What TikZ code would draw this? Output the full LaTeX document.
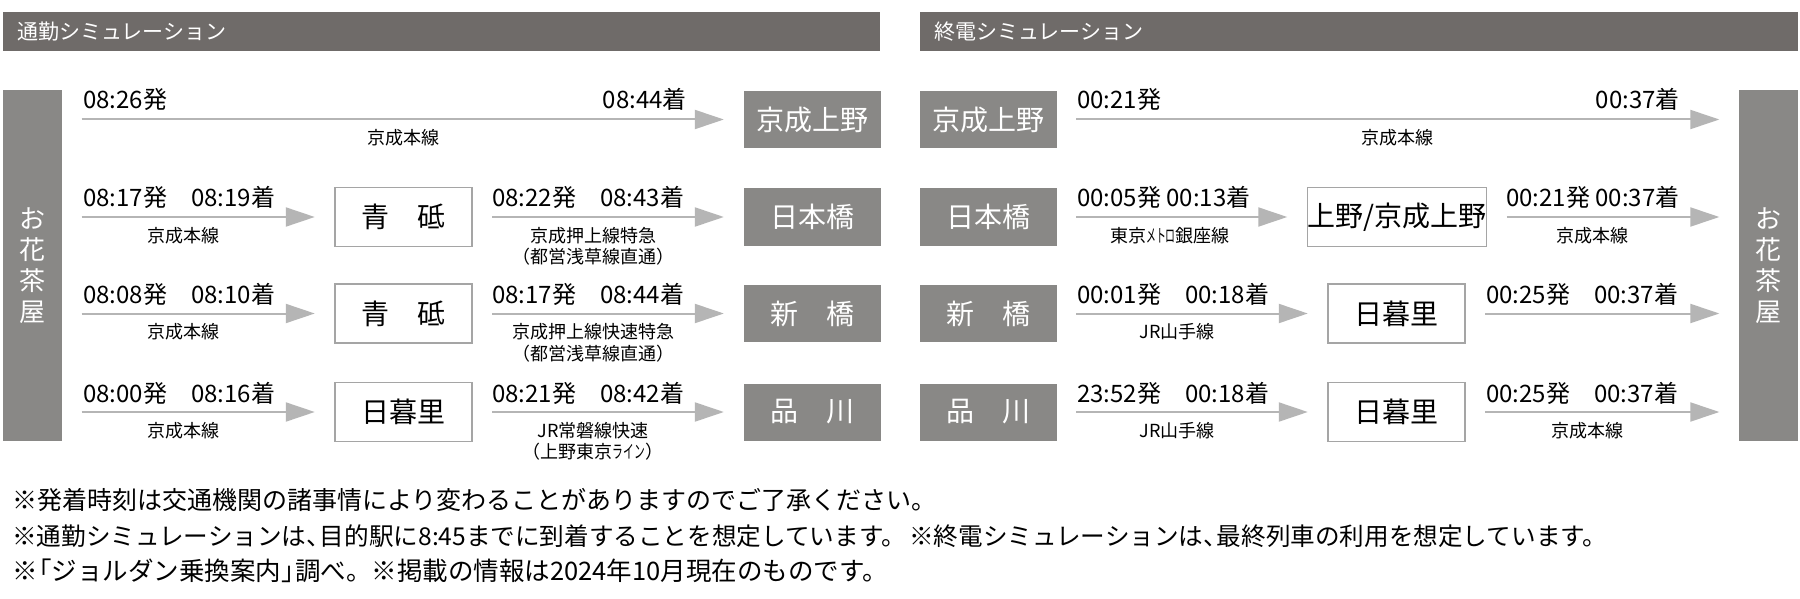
\documentclass[tikz,border=0pt]{standalone}
\usepackage{fontspec}
\setmainfont{Noto Sans CJK JP}
\usetikzlibrary{arrows.meta}
\definecolor{hdrgray}{RGB}{111,107,105}
\definecolor{stngray}{RGB}{137,136,134}
\definecolor{arrgray}{RGB}{181,181,181}
\definecolor{bordgray}{RGB}{165,165,165}
\newcommand{\hk}{\kern-0.45em}
\begin{document}
\begin{tikzpicture}[x=1pt,y=-1pt,
  hdr/.style={fill=hdrgray, draw=none},
  hdrtext/.style={text=white, font=\fontsize{21}{21}\selectfont, anchor=west, inner sep=0},
  stn/.style={fill=stngray, text=white, minimum width=137pt, minimum height=57pt, inner sep=0, font=\fontsize{28}{28}\selectfont},
  tall/.style={fill=stngray, text=white, minimum width=59pt, minimum height=351pt, inner sep=0, align=center, font=\fontsize{26}{31}\selectfont},
  xfer/.style={draw=bordgray, line width=1.5pt, fill=white, minimum width=137pt, minimum height=59pt, inner sep=0, font=\fontsize{28}{28}\selectfont},
  arr/.style={draw=arrgray, line width=2pt, -{Triangle[length=29pt,width=19pt]}, shorten <=19.5pt, shorten >=19.5pt},
  tm/.style={font=\fontsize{24}{24}\selectfont, inner sep=0, anchor=base west},
  tme/.style={font=\fontsize{24}{24}\selectfont, inner sep=0, anchor=base east},
  lbl/.style={font=\fontsize{18}{21.5}\selectfont, inner sep=0, align=center, anchor=north},
  note/.style={font=\fontsize{24.6}{24.6}\selectfont, inner sep=0, anchor=base west},
]
\useasboundingbox (0,0) rectangle (1800,599);
\fill[white] (0,0) rectangle (1800,599);

% headers
\node[hdr, minimum width=877pt, minimum height=39pt, inner sep=0, anchor=north west] (hL) at (3,12) {};
\node[hdrtext] (hLt) at (17,31.5) {通勤シミュレーション};
\node[hdr, minimum width=878pt, minimum height=39pt, inner sep=0, anchor=north west] (hR) at (920,12) {};
\node[hdrtext] (hRt) at (934,31.5) {終電シミュレーション};

% tall boxes
\node[tall] (ochaL) at (32.5,265.5) {お\\花\\茶\\屋};
\node[tall] (ochaR) at (1768.5,265.5) {お\\花\\茶\\屋};

% ===== left side =====
\node[stn] (kuL) at (812,119.5) {京成上野};
\node[stn] (nihL) at (812,217) {日本橋};
\node[stn] (shinL) at (812,313.5) {新　橋};
\node[stn] (shinaL) at (812,412) {品　川};

\node[xfer] (xL2) at (403.5,217) {青　砥};
\node[xfer] (xL3) at (403.5,313.5) {青　砥};
\node[xfer] (xL4) at (403.5,412) {日暮里};

\draw[arr] (ochaL.east |- kuL.west) -- (kuL.west);
\draw[arr] (ochaL.east |- xL2.west) -- (xL2.west);
\draw[arr] (xL2.east) -- (nihL.west);
\draw[arr] (ochaL.east |- xL3.west) -- (xL3.west);
\draw[arr] (xL3.east) -- (shinL.west);
\draw[arr] (ochaL.east |- xL4.west) -- (xL4.west);
\draw[arr] (xL4.east) -- (shinaL.west);

\node[tm] (t11) at (83,109) {08:26発};
\node[tme] (t12) at (687,109) {08:44着};
\node[lbl] (l1) at (403,129) {京成本線};

\node[tm] (t21) at (83,207) {08:17発　08:19着};
\node[lbl] (l21) at (183,227) {京成本線};
\node[tm] (t22) at (492,207) {08:22発　08:43着};
\node[lbl] (l22) at (593,227) {京成押上線特急\\（都営浅草線直通）};

\node[tm] (t31) at (83,303.5) {08:08発　08:10着};
\node[lbl] (l31) at (183,323.5) {京成本線};
\node[tm] (t32) at (492,303.5) {08:17発　08:44着};
\node[lbl] (l32) at (593,323.5) {京成押上線快速特急\\（都営浅草線直通）};

\node[tm] (t41) at (83,402) {08:00発　08:16着};
\node[lbl] (l41) at (183,422) {京成本線};
\node[tm] (t42) at (492,402) {08:21発　08:42着};
\node[lbl] (l42) at (593,422) {JR常磐線快速\\（上野東京\scalebox{0.6}[1]{ライン}）};

% ===== right side =====
\node[stn] (kuR) at (988,119.5) {京成上野};
\node[stn] (nihR) at (988,217) {日本橋};
\node[stn] (shinR) at (988,313.5) {新　橋};
\node[stn] (shinaR) at (988,412) {品　川};

\node[xfer, minimum width=176pt] (xR2) at (1397,217) {上野/京成上野};
\node[xfer] (xR3) at (1396.5,313.5) {日暮里};
\node[xfer] (xR4) at (1396.5,412) {日暮里};

\draw[arr] (kuR.east) -- (ochaR.west |- kuR.east);
\draw[arr] (nihR.east) -- (xR2.west);
\draw[arr] (xR2.east) -- (ochaR.west |- xR2.east);
\draw[arr] (shinR.east) -- (xR3.west);
\draw[arr] (xR3.east) -- (ochaR.west |- xR3.east);
\draw[arr] (shinaR.east) -- (xR4.west);
\draw[arr] (xR4.east) -- (ochaR.west |- xR4.east);

\node[tm] (u11) at (1077,109) {00:21発};
\node[tme] (u12) at (1680,109) {00:37着};
\node[lbl] (m1) at (1397,129) {京成本線};

\node[tm] (u21) at (1077,207) {00:05発 00:13着};
\node[lbl] (m21) at (1170,227) {東京\scalebox{0.55}[1]{メトロ}銀座線};
\node[tm] (u22) at (1506,207) {00:21発 00:37着};
\node[lbl] (m22) at (1592,227) {京成本線};

\node[tm] (u31) at (1077,303.5) {00:01発　00:18着};
\node[lbl] (m31) at (1177,323.5) {JR山手線};
\node[tm] (u32) at (1486,303.5) {00:25発　00:37着};

\node[tm] (u41) at (1077,402) {23:52発　00:18着};
\node[lbl] (m41) at (1177,422) {JR山手線};
\node[tm] (u42) at (1486,402) {00:25発　00:37着};
\node[lbl] (m42) at (1587,422) {京成本線};

% notes
\node[note, font=\fontsize{25}{25}\selectfont] (n1) at (12,509) {※発着時刻は交通機関の諸事情により変わることがありますのでご了承ください。};
\node[note] (n2) at (12,545) {※通勤シミュレーションは、\hk 目的駅に8:45までに到着することを想定しています。};
\node[note] (n2b) at (909,545) {※終電シミュレーションは、\hk 最終列車の利用を想定しています。};
\node[note, font=\fontsize{25.5}{25.5}\selectfont] (n3) at (12,580) {※\hk「ジョルダン乗換案内」\hk 調べ。※掲載の情報は2024年10月現在のものです。};
\end{tikzpicture}
\end{document}
